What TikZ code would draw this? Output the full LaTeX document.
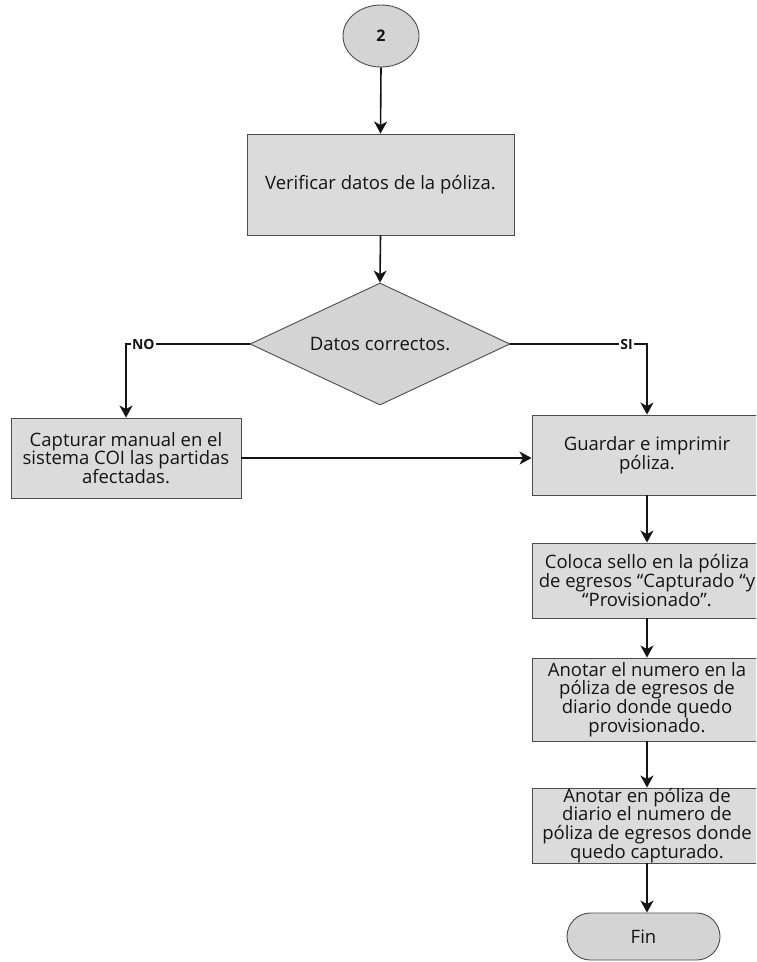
\documentclass[tikz,border=0pt]{standalone}
\usepackage{fontspec}
\setmainfont{Open Sans}
\usetikzlibrary{shapes.geometric,shapes.misc,arrows.meta}
\definecolor{boxfill}{gray}{0.86}
\definecolor{darkfill}{gray}{0.83}
\definecolor{edge}{gray}{0.30}
\definecolor{ink}{gray}{0.08}
\tikzset{
  base/.style={draw=edge, line width=0.9pt, text=ink, font=\fontsize{18.5}{18.8}\selectfont, align=center, inner sep=0pt},
  procbox/.style={base, rectangle, fill=boxfill},
  decbox/.style={base, diamond, fill=darkfill, aspect=2.13},
  termbox/.style={base, rounded rectangle, fill=darkfill},
  connbox/.style={base, ellipse, fill=darkfill, font=\fontsize{16}{18}\selectfont\bfseries},
  arr/.style={draw=ink, line width=1.6pt, -{Stealth[length=12pt,width=13pt,inset=3.5pt]}},
  lbl/.style={fill=white, inner sep=1pt, text=ink, font=\fontsize{14}{16}\selectfont\bfseries}
}
\begin{document}
\begin{tikzpicture}[x=1pt,y=-1pt]
\useasboundingbox (0,0) rectangle (756,962);
\clip (0,0) rectangle (756,962);
\fill[white] (0,0) rectangle (756,962);

\node[connbox, minimum width=76pt, minimum height=62pt] (c2) at (381,36) {2};
\node[procbox, minimum width=267pt, minimum height=101pt] (ver) at (380.5,184.5) {Verificar datos de la póliza.};
\node[decbox, minimum width=260pt, minimum height=122pt] (dia) at (380,344) {Datos correctos.};
\node[procbox, minimum width=230pt, minimum height=80pt] (capt) at (126,458) {Capturar manual en el\\sistema COI las partidas\\afectadas.};
\node[procbox, minimum width=230pt, minimum height=80pt] (gua) at (647,455) {Guardar e imprimir\\póliza.};
\node[procbox, minimum width=230pt, minimum height=75pt] (col) at (647,580.5) {Coloca sello en la póliza\\\makebox[200pt]{de egresos “Capturado “y}\\“Provisionado”.};
\node[procbox, minimum width=230pt, minimum height=83pt] (an1) at (647,699.5) {Anotar el numero en la\\póliza de egresos de\\diario donde quedo\\provisionado.};
\node[procbox, minimum width=230pt, minimum height=75pt] (an2) at (647,825.5) {Anotar en póliza de\\diario el numero de\\póliza de egresos donde\\quedo capturado.};
\node[termbox, minimum width=153pt, minimum height=47pt] (fin) at (643.5,936.5) {Fin};

\draw[arr] (c2.south) -- (ver.north);
\draw[arr] (ver.south) -- (dia.north);
\draw[arr] (dia.west) -- node[lbl, pos=0.86] {NO} (dia.west -| capt.north) -- (capt.north);
\draw[arr] (dia.east) -- node[lbl, pos=0.85] {SI} (dia.east -| gua.north) -- (gua.north);
\draw[arr] (capt.east) -- (gua.west |- capt.east);
\draw[arr] (gua.south) -- (col.north);
\draw[arr] (col.south) -- (an1.north);
\draw[arr] (an1.south) -- (an2.north);
\draw[arr] (an2.south) -- (an2.south |- fin.north);
\end{tikzpicture}
\end{document}
